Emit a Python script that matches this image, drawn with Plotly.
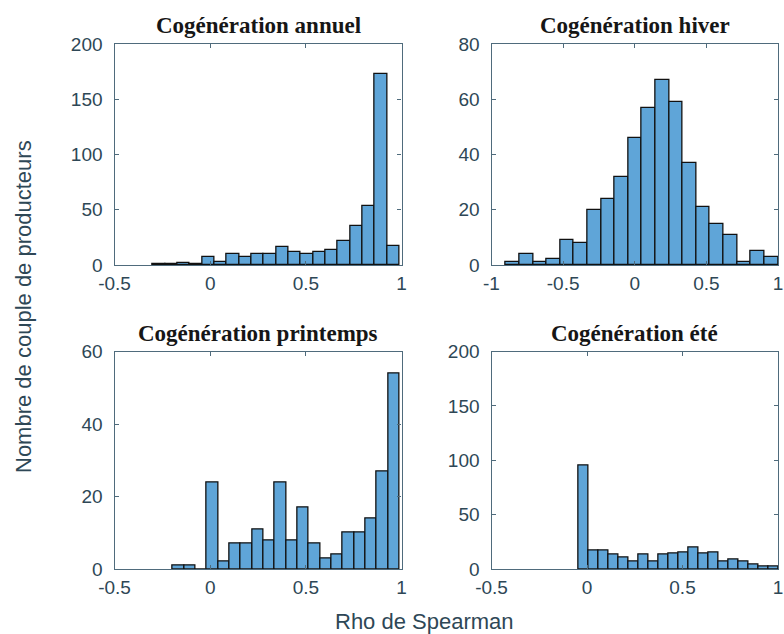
import numpy as np
import plotly.graph_objects as go

# ---- data (histogram counts) ----
titles = ["Cogénération annuel", "Cogénération hiver",
          "Cogénération printemps", "Cogénération été"]

annuel_start, annuel_width = -0.299, 0.0644
annuel_counts = [1, 1, 2, 1, 7, 3, 10, 7, 10, 10, 16, 12, 10, 12, 14, 22, 35, 53, 173, 17]

hiver_start, hiver_width = -0.90, 0.095
hiver_counts = [1, 4, 1, 2, 9, 8, 20, 24, 32, 46, 57, 67, 59, 37, 21, 15, 11, 1, 5, 3]

printemps_start, printemps_width = -0.196, 0.0593
printemps_counts = [1, 1, 0, 24, 2, 7, 7, 11, 8, 24, 8, 17, 7, 3, 4, 10, 10, 14, 27, 54]

ete_start, ete_width = -0.046, 0.0523
ete_counts = [95, 17, 17, 13, 11, 7, 13, 7, 13, 14, 15, 20, 14, 15, 7, 9, 7, 4, 2, 2]

x_ranges = [[-0.5, 1], [-1, 1], [-0.5, 1], [-0.5, 1]]
y_ranges = [[0, 200], [0, 80], [0, 60], [0, 200]]
x_ticks = [[-0.5, 0, 0.5, 1], [-1, -0.5, 0, 0.5, 1], [-0.5, 0, 0.5, 1], [-0.5, 0, 0.5, 1]]
x_ticktext = [["-0.5", "0", "0.5", "1"], ["-1", "-0.5", "0", "0.5", "1"],
              ["-0.5", "0", "0.5", "1"], ["-0.5", "0", "0.5", "1"]]
y_dtick = [50, 20, 20, 50]

series = [(annuel_start, annuel_width, annuel_counts),
          (hiver_start, hiver_width, hiver_counts),
          (printemps_start, printemps_width, printemps_counts),
          (ete_start, ete_width, ete_counts)]

W, H = 784, 634
# panel boxes in pixels: (left, right, top, bottom)
boxes = [(114.5, 401.5, 44, 265), (491.5, 778, 44, 265),
         (114.5, 401.5, 351.5, 569), (491.5, 778, 351.5, 569)]

BAR = "#5fa5d8"
AXC = "#4f6b7c"
TXT = "#2e4756"

fig = go.Figure()
layout = dict(width=W, height=H, margin=dict(l=0, r=0, t=0, b=0, autoexpand=False),
              template="none",
              paper_bgcolor="white", plot_bgcolor="white", showlegend=False,
              bargap=0, annotations=[])

for i, ((start, width, counts), box) in enumerate(zip(series, boxes)):
    n = len(counts)
    centers = start + width * (np.arange(n) + 0.5)
    xa = "x" if i == 0 else f"x{i+1}"
    ya = "y" if i == 0 else f"y{i+1}"
    fig.add_trace(go.Bar(x=centers, y=counts, width=width, xaxis=xa, yaxis=ya,
                         marker=dict(color=BAR, line=dict(color="#111111", width=1.3))))
    l, r, t, b = box
    xd = [l / W, r / W]
    yd = [1 - b / H, 1 - t / H]
    common = dict(showline=True, linecolor=AXC, linewidth=1.3, mirror="allticks",
                  ticks="inside", ticklen=4, tickcolor=AXC, showgrid=False, zeroline=False,
                  automargin=False,
                  tickfont=dict(family="Liberation Sans, Arial", size=19, color=TXT))
    layout["xaxis" if i == 0 else f"xaxis{i+1}"] = dict(
        domain=xd, range=x_ranges[i], anchor=ya, tickmode="array",
        tickvals=x_ticks[i], ticktext=x_ticktext[i], ticklabelstandoff=1, **common)
    layout["yaxis" if i == 0 else f"yaxis{i+1}"] = dict(
        domain=yd, range=y_ranges[i], anchor=xa, dtick=y_dtick[i], tick0=0,
        ticklabelstandoff=7, **common)
    layout["annotations"].append(dict(
        text=f"<b>{titles[i]}</b>", x=(l + r) / 2 / W, y=1 - (t - 4) / H,
        xref="paper", yref="paper", xanchor="center", yanchor="bottom", showarrow=False,
        font=dict(family="Liberation Serif, Times New Roman", size=23, color="#161616")))

layout["annotations"].append(dict(
    text="Rho de Spearman", x=424 / W, y=1 - 621 / H, xref="paper", yref="paper",
    xanchor="center", yanchor="middle", showarrow=False,
    font=dict(family="Liberation Sans, Arial", size=22, color=TXT)))
layout["annotations"].append(dict(
    text="Nombre de couple de producteurs", x=23 / W, y=1 - 307 / H, xref="paper", yref="paper",
    xanchor="center", yanchor="middle", showarrow=False, textangle=-90,
    font=dict(family="Liberation Sans, Arial", size=22, color=TXT)))

fig.update_layout(**layout)
fig.write_html("out.html", config={"displayModeBar": False},
               post_script="document.body.style.margin='0';document.body.style.overflow='hidden';")
